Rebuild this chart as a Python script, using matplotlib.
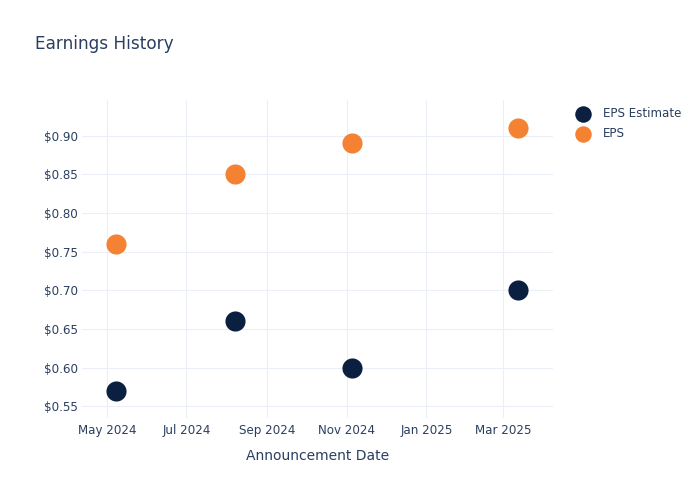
import matplotlib
matplotlib.use("Agg")
import matplotlib.pyplot as plt
import matplotlib.dates as mdates
import numpy as np
from datetime import datetime

dates = ["2024-05-08", "2024-08-07", "2024-11-05", "2025-03-12"]
eps_estimate = [0.57, 0.66, 0.60, 0.70]
eps_actual = [0.76, 0.85, 0.89, 0.91]
series_names = ["EPS Estimate", "EPS"]
tick_dates = ["2024-05-01", "2024-07-01", "2024-09-01", "2024-11-01", "2025-01-01", "2025-03-01"]
tick_labels = ["May 2024", "Jul 2024", "Sep 2024", "Nov 2024", "Jan 2025", "Mar 2025"]
y_ticks = [0.55, 0.60, 0.65, 0.70, 0.75, 0.80, 0.85, 0.90]

plt.rcParams['font.family'] = ['DejaVu Sans']
text_color = "#2a3f5f"
grid_color = "#ebf0f8"
navy = "#0b1f41"
orange = "#f58233"

x = [datetime.strptime(d, "%Y-%m-%d") for d in dates]

fig = plt.figure(figsize=(7, 5), dpi=100)
ax = fig.add_axes([82/700, 1 - 418/500, (553-82)/700, (418-100)/500])

ax.scatter(x, eps_estimate, s=210, color=navy, label=series_names[0], zorder=3, linewidths=0)
ax.scatter(x, eps_actual, s=210, color=orange, label=series_names[1], zorder=3, linewidths=0)

ax.set_xlim(datetime(2024, 4, 12), datetime(2025, 4, 8))
ax.set_ylim(0.5351, 0.9459)

ax.set_xticks([datetime.strptime(d, "%Y-%m-%d") for d in tick_dates])
ax.set_xticklabels(tick_labels)
ax.set_yticks(y_ticks)
ax.set_yticklabels([f"${v:.2f}" for v in y_ticks])

ax.tick_params(axis='both', length=0, labelsize=8.6, colors=text_color)
ax.tick_params(axis='x', pad=4)
ax.tick_params(axis='y', pad=3)
ax.grid(True, color=grid_color, linewidth=0.75)
ax.set_axisbelow(True)
for sp in ax.spines.values():
    sp.set_visible(False)

ax.set_xlabel("Announcement Date", fontsize=10, color=text_color, labelpad=9)

fig.text(35/700, 1 - 44/500, "Earnings History", fontsize=12.2, color=text_color, va='center', ha='left')

leg = ax.legend(loc='upper left', bbox_to_anchor=(571/700, 1 - 107/500), bbox_transform=fig.transFigure,
                frameon=False, fontsize=8.6, labelcolor=text_color, handletextpad=0.7,
                labelspacing=0.6, markerscale=0.82, borderaxespad=0, borderpad=0)

fig.savefig("out.png", dpi=100)
